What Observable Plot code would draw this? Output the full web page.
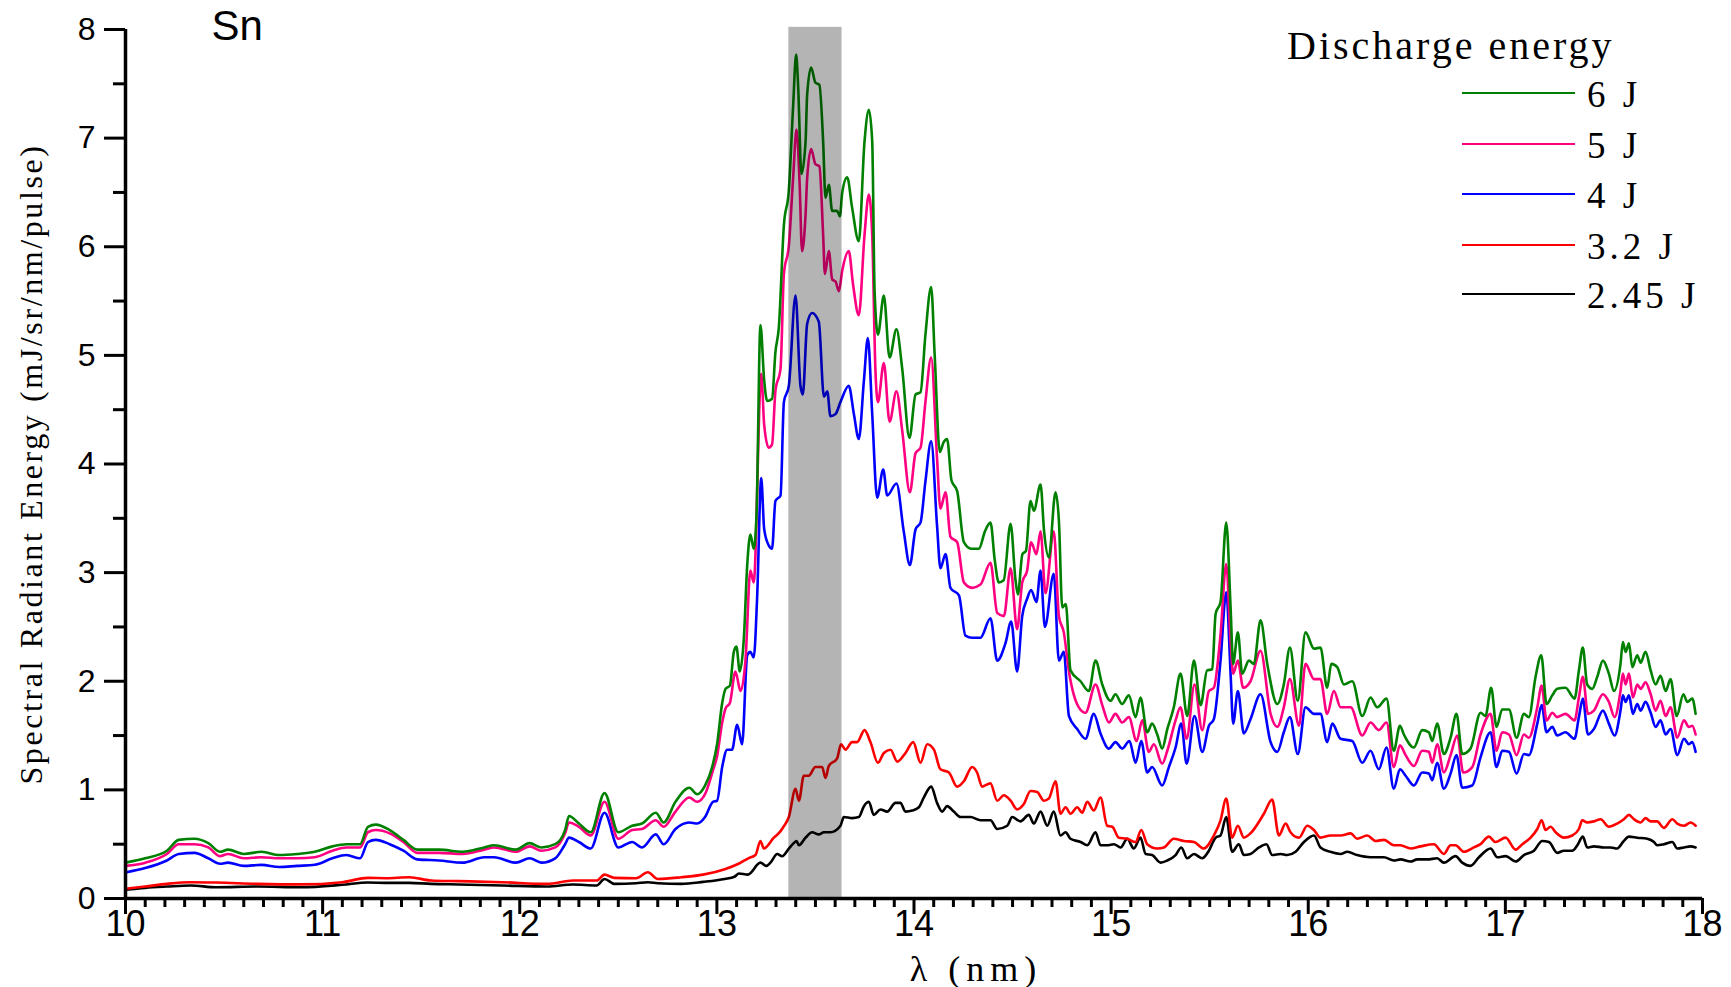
<!DOCTYPE html>
<html>
<head>
<meta charset="utf-8">
<script src="https://cdn.jsdelivr.net/npm/d3@7"></script>
<script src="https://cdn.jsdelivr.net/npm/@observablehq/plot@0.6"></script>
<style>
  html, body { margin: 0; padding: 0; background: #fff; }
  #chart { position: relative; width: 1731px; height: 987px; }
  #legend { position: absolute; left: 0; top: 0; width: 1731px; height: 0; font-family: "Liberation Serif", serif; color: #000; }
  #legend .title { position: absolute; left: 1287px; top: 26px; font-size: 40px; line-height: 1; letter-spacing: 3px; white-space: nowrap; }
  #legend .swatch { position: absolute; left: 1462px; width: 113px; height: 2px; }
  #legend .label { position: absolute; left: 1587px; font-size: 37px; line-height: 1; letter-spacing: 4px; white-space: nowrap; }
</style>
</head>
<body>
<div id="chart"></div>
<script>
// Spectral radiant energy of a Sn discharge source, [wavelength nm, mJ/sr/nm/pulse]
const e6J = [[10.00,0.33],[10.10,0.37],[10.21,0.44],[10.27,0.54],[10.35,0.55],[10.42,0.51],[10.48,0.43],[10.52,0.45],[10.60,0.41],[10.69,0.43],[10.78,0.40],[10.87,0.41],[10.96,0.43],[11.05,0.48],[11.12,0.50],[11.19,0.50],[11.23,0.66],[11.27,0.68],[11.34,0.63],[11.41,0.54],[11.48,0.45],[11.59,0.45],[11.71,0.43],[11.82,0.47],[11.87,0.49],[11.98,0.45],[12.05,0.51],[12.11,0.47],[12.18,0.50],[12.23,0.63],[12.25,0.76],[12.30,0.69],[12.36,0.61],[12.43,0.97],[12.50,0.61],[12.57,0.67],[12.62,0.69],[12.69,0.79],[12.73,0.70],[12.79,0.89],[12.86,1.02],[12.90,0.96],[12.94,1.04],[12.976,1.21],[13.001,1.42],[13.027,1.80],[13.044,1.93],[13.066,1.96],[13.086,2.27],[13.099,2.32],[13.116,2.09],[13.137,2.40],[13.154,3.07],[13.170,3.35],[13.187,3.22],[13.201,3.53],[13.221,5.28],[13.240,4.77],[13.255,4.58],[13.280,4.60],[13.297,5.03],[13.314,5.25],[13.340,6.20],[13.365,6.52],[13.387,7.30],[13.402,7.77],[13.412,7.49],[13.429,6.67],[13.450,6.97],[13.458,7.40],[13.478,7.65],[13.500,7.51],[13.520,7.49],[13.539,6.97],[13.551,6.45],[13.568,6.57],[13.585,6.33],[13.610,6.33],[13.624,6.28],[13.636,6.50],[13.661,6.64],[13.686,6.36],[13.720,6.05],[13.749,6.97],[13.771,7.26],[13.788,6.97],[13.800,5.60],[13.817,5.19],[13.847,5.55],[13.876,4.98],[13.911,5.24],[13.940,4.88],[13.977,4.24],[14.008,4.64],[14.033,4.66],[14.058,5.19],[14.087,5.63],[14.105,5.00],[14.131,4.11],[14.150,4.20],[14.168,4.23],[14.190,3.85],[14.219,3.75],[14.253,3.28],[14.290,3.22],[14.329,3.22],[14.360,3.38],[14.388,3.46],[14.410,3.11],[14.430,2.91],[14.455,2.93],[14.490,3.45],[14.515,2.93],[14.527,2.80],[14.550,3.17],[14.568,3.20],[14.591,3.66],[14.608,3.57],[14.642,3.81],[14.660,3.38],[14.684,3.14],[14.718,3.74],[14.735,3.48],[14.752,2.68],[14.770,2.71],[14.794,2.10],[14.845,2.00],[14.887,1.91],[14.921,2.19],[14.955,1.97],[14.997,1.82],[15.022,1.88],[15.056,1.79],[15.090,1.87],[15.124,1.67],[15.149,1.85],[15.183,1.53],[15.208,1.61],[15.234,1.51],[15.259,1.38],[15.285,1.56],[15.318,1.76],[15.352,2.07],[15.386,1.68],[15.420,2.19],[15.454,1.78],[15.487,2.10],[15.513,2.11],[15.530,2.62],[15.555,2.73],[15.584,3.46],[15.606,2.68],[15.619,2.16],[15.643,2.45],[15.665,2.07],[15.699,2.19],[15.724,2.16],[15.758,2.56],[15.792,2.16],[15.843,1.79],[15.876,1.97],[15.907,2.31],[15.947,1.82],[15.986,2.45],[16.029,2.30],[16.062,2.31],[16.096,1.94],[16.117,2.16],[16.147,2.13],[16.181,1.97],[16.223,2.00],[16.274,1.68],[16.316,1.85],[16.350,1.76],[16.397,1.84],[16.434,1.36],[16.465,1.59],[16.485,1.51],[16.536,1.39],[16.578,1.55],[16.612,1.53],[16.629,1.45],[16.654,1.61],[16.688,1.33],[16.722,1.48],[16.752,1.70],[16.781,1.33],[16.823,1.38],[16.874,1.71],[16.899,1.68],[16.928,1.94],[16.955,1.58],[16.984,1.74],[17.018,1.74],[17.057,1.48],[17.094,1.70],[17.119,1.67],[17.153,2.04],[17.182,2.24],[17.209,1.79],[17.238,1.87],[17.263,1.93],[17.305,1.94],[17.351,1.84],[17.373,2.10],[17.393,2.31],[17.415,1.97],[17.441,1.93],[17.466,2.04],[17.495,2.19],[17.525,2.07],[17.551,1.91],[17.584,2.16],[17.596,2.36],[17.610,2.27],[17.627,2.35],[17.644,2.13],[17.669,2.24],[17.686,2.17],[17.711,2.27],[17.737,2.10],[17.762,1.97],[17.787,2.05],[17.813,1.91],[17.838,2.02],[17.869,1.68],[17.903,1.88],[17.923,1.81],[17.948,1.84],[17.965,1.70]];

const e5J = [[10.00,0.30],[10.10,0.33],[10.21,0.41],[10.27,0.50],[10.35,0.50],[10.42,0.47],[10.48,0.39],[10.52,0.41],[10.60,0.37],[10.69,0.38],[10.78,0.37],[10.87,0.37],[10.96,0.38],[11.05,0.44],[11.12,0.47],[11.19,0.47],[11.23,0.61],[11.27,0.63],[11.34,0.60],[11.41,0.52],[11.48,0.42],[11.59,0.42],[11.71,0.41],[11.82,0.45],[11.87,0.47],[11.98,0.43],[12.05,0.48],[12.11,0.44],[12.18,0.47],[12.23,0.60],[12.25,0.70],[12.30,0.66],[12.36,0.58],[12.43,0.89],[12.50,0.55],[12.57,0.63],[12.62,0.64],[12.69,0.72],[12.73,0.66],[12.79,0.80],[12.86,0.93],[12.90,0.89],[12.94,0.96],[12.98,1.18],[13.001,1.31],[13.027,1.62],[13.044,1.75],[13.066,1.80],[13.094,2.09],[13.120,1.91],[13.145,2.19],[13.170,3.02],[13.187,2.91],[13.225,4.83],[13.240,4.36],[13.263,4.15],[13.280,4.18],[13.297,4.67],[13.323,4.88],[13.340,5.75],[13.365,6.01],[13.387,6.64],[13.404,7.08],[13.420,6.57],[13.432,5.96],[13.450,6.30],[13.458,6.63],[13.478,6.90],[13.500,6.76],[13.520,6.74],[13.539,6.11],[13.548,5.75],[13.568,5.96],[13.585,5.70],[13.602,5.68],[13.619,5.59],[13.636,5.78],[13.669,5.96],[13.691,5.65],[13.720,5.37],[13.749,6.11],[13.771,6.48],[13.788,6.11],[13.804,4.88],[13.817,4.57],[13.847,4.93],[13.876,4.39],[13.911,4.67],[13.940,4.31],[13.979,3.74],[14.008,4.10],[14.033,4.15],[14.058,4.57],[14.087,4.98],[14.117,4.05],[14.134,3.59],[14.160,3.74],[14.185,3.33],[14.219,3.28],[14.253,2.91],[14.295,2.86],[14.337,2.89],[14.388,3.09],[14.422,2.63],[14.456,2.60],[14.490,3.04],[14.523,2.48],[14.549,2.91],[14.574,3.02],[14.594,3.28],[14.621,3.17],[14.642,3.38],[14.667,2.81],[14.709,3.38],[14.735,2.60],[14.760,2.45],[14.786,2.09],[14.836,1.76],[14.870,1.71],[14.921,1.97],[14.955,1.78],[14.989,1.62],[15.022,1.70],[15.056,1.62],[15.090,1.67],[15.129,1.45],[15.158,1.64],[15.191,1.35],[15.217,1.42],[15.259,1.24],[15.285,1.36],[15.327,1.64],[15.352,1.76],[15.383,1.47],[15.423,1.97],[15.462,1.55],[15.496,1.91],[15.521,1.94],[15.555,2.43],[15.584,3.08],[15.606,2.37],[15.619,2.07],[15.643,2.19],[15.670,1.94],[15.707,2.00],[15.758,2.28],[15.809,1.70],[15.843,1.58],[15.876,1.76],[15.907,2.02],[15.953,1.59],[15.986,2.16],[16.029,2.02],[16.062,2.02],[16.096,1.70],[16.130,1.91],[16.164,1.76],[16.215,1.76],[16.274,1.50],[16.316,1.62],[16.358,1.55],[16.397,1.62],[16.434,1.21],[16.465,1.41],[16.494,1.32],[16.536,1.22],[16.578,1.36],[16.612,1.35],[16.629,1.25],[16.654,1.42],[16.688,1.16],[16.722,1.32],[16.756,1.50],[16.786,1.16],[16.832,1.21],[16.874,1.51],[16.925,1.70],[16.955,1.36],[16.984,1.53],[17.018,1.51],[17.057,1.32],[17.094,1.51],[17.119,1.48],[17.162,1.76],[17.184,1.96],[17.209,1.64],[17.238,1.71],[17.263,1.67],[17.305,1.70],[17.351,1.64],[17.373,1.85],[17.393,2.04],[17.419,1.70],[17.449,1.73],[17.495,1.88],[17.525,1.81],[17.554,1.67],[17.584,1.91],[17.596,2.07],[17.610,1.97],[17.627,2.07],[17.647,1.85],[17.669,1.97],[17.686,1.93],[17.711,1.99],[17.737,1.88],[17.762,1.73],[17.787,1.82],[17.813,1.68],[17.838,1.76],[17.872,1.48],[17.906,1.64],[17.931,1.58],[17.948,1.59],[17.965,1.51]];

const e4J = [[10.00,0.24],[10.10,0.28],[10.21,0.35],[10.27,0.41],[10.35,0.42],[10.42,0.37],[10.48,0.32],[10.52,0.33],[10.60,0.30],[10.69,0.31],[10.78,0.29],[10.87,0.30],[10.96,0.31],[11.05,0.37],[11.12,0.40],[11.19,0.37],[11.23,0.52],[11.27,0.54],[11.34,0.50],[11.41,0.44],[11.48,0.36],[11.59,0.35],[11.71,0.33],[11.82,0.38],[11.87,0.38],[11.98,0.33],[12.05,0.37],[12.11,0.33],[12.18,0.37],[12.23,0.50],[12.25,0.56],[12.30,0.52],[12.36,0.46],[12.43,0.79],[12.50,0.47],[12.57,0.52],[12.62,0.47],[12.69,0.59],[12.73,0.50],[12.79,0.64],[12.86,0.70],[12.90,0.69],[12.94,0.75],[12.98,0.89],[13.001,0.90],[13.027,1.21],[13.052,1.37],[13.077,1.37],[13.103,1.60],[13.128,1.42],[13.154,2.24],[13.170,2.27],[13.187,2.22],[13.204,2.76],[13.225,3.87],[13.240,3.40],[13.263,3.25],[13.280,3.22],[13.297,3.66],[13.323,3.71],[13.340,4.57],[13.365,4.72],[13.399,5.55],[13.424,4.72],[13.436,4.64],[13.458,5.29],[13.483,5.39],[13.517,5.31],[13.543,4.62],[13.560,4.67],[13.576,4.44],[13.602,4.46],[13.627,4.57],[13.669,4.72],[13.695,4.46],[13.720,4.23],[13.746,4.77],[13.766,5.16],[13.788,4.46],[13.813,3.69],[13.844,3.95],[13.864,3.71],[13.911,3.82],[13.948,3.38],[13.979,3.07],[14.008,3.40],[14.033,3.46],[14.058,3.84],[14.087,4.21],[14.117,3.43],[14.134,3.04],[14.160,3.17],[14.185,2.86],[14.228,2.79],[14.261,2.42],[14.295,2.40],[14.337,2.40],[14.388,2.58],[14.422,2.19],[14.464,2.35],[14.493,2.55],[14.523,2.09],[14.549,2.60],[14.574,2.76],[14.594,2.84],[14.621,2.73],[14.642,3.02],[14.664,2.50],[14.709,2.99],[14.735,2.19],[14.760,2.27],[14.786,1.68],[14.828,1.56],[14.870,1.47],[14.912,1.70],[14.946,1.52],[14.989,1.38],[15.022,1.44],[15.056,1.38],[15.093,1.45],[15.124,1.25],[15.153,1.45],[15.183,1.16],[15.208,1.21],[15.259,1.04],[15.293,1.21],[15.327,1.39],[15.356,1.61],[15.383,1.24],[15.423,1.68],[15.462,1.35],[15.496,1.59],[15.521,1.65],[15.555,2.19],[15.584,2.82],[15.606,2.07],[15.619,1.61],[15.643,1.91],[15.673,1.52],[15.707,1.65],[15.758,1.88],[15.809,1.44],[15.843,1.35],[15.876,1.53],[15.907,1.67],[15.947,1.33],[15.986,1.76],[16.029,1.70],[16.062,1.70],[16.096,1.44],[16.122,1.61],[16.164,1.47],[16.223,1.45],[16.274,1.25],[16.316,1.36],[16.358,1.19],[16.397,1.39],[16.434,1.01],[16.465,1.19],[16.494,1.13],[16.536,1.04],[16.578,1.16],[16.612,1.15],[16.629,1.09],[16.654,1.25],[16.688,1.01],[16.722,1.15],[16.752,1.32],[16.781,1.02],[16.832,1.04],[16.874,1.30],[16.925,1.53],[16.955,1.21],[16.984,1.36],[17.018,1.35],[17.057,1.15],[17.094,1.33],[17.119,1.32],[17.162,1.61],[17.184,1.78],[17.209,1.53],[17.238,1.58],[17.263,1.50],[17.305,1.53],[17.351,1.47],[17.373,1.67],[17.393,1.84],[17.419,1.51],[17.449,1.56],[17.495,1.73],[17.525,1.61],[17.554,1.50],[17.584,1.73],[17.596,1.87],[17.610,1.81],[17.627,1.87],[17.647,1.70],[17.669,1.79],[17.686,1.73],[17.711,1.81],[17.737,1.71],[17.762,1.58],[17.787,1.64],[17.813,1.51],[17.838,1.56],[17.872,1.32],[17.906,1.47],[17.931,1.42],[17.948,1.44],[17.965,1.35]];

const e3_2J = [[10.00,0.09],[10.10,0.11],[10.21,0.135],[10.33,0.15],[10.46,0.147],[10.67,0.135],[10.89,0.13],[11.10,0.15],[11.23,0.19],[11.32,0.187],[11.44,0.196],[11.55,0.166],[11.69,0.16],[11.91,0.15],[12.14,0.135],[12.27,0.166],[12.39,0.166],[12.43,0.22],[12.48,0.19],[12.59,0.187],[12.65,0.242],[12.70,0.18],[12.82,0.196],[12.93,0.22],[13.04,0.27],[13.11,0.32],[13.16,0.37],[13.196,0.40],[13.221,0.53],[13.238,0.46],[13.289,0.56],[13.323,0.62],[13.338,0.66],[13.365,0.75],[13.399,1.01],[13.416,0.90],[13.441,1.13],[13.466,1.13],[13.500,1.21],[13.534,1.21],[13.551,1.11],[13.568,1.22],[13.610,1.29],[13.630,1.42],[13.652,1.37],[13.686,1.44],[13.712,1.44],[13.749,1.55],[13.779,1.44],[13.817,1.25],[13.847,1.34],[13.881,1.37],[13.915,1.26],[13.957,1.34],[13.996,1.44],[14.033,1.25],[14.067,1.42],[14.101,1.37],[14.134,1.19],[14.177,1.16],[14.219,1.03],[14.253,1.08],[14.295,1.21],[14.320,1.16],[14.346,1.03],[14.388,1.06],[14.422,0.90],[14.456,0.95],[14.490,0.90],[14.523,0.82],[14.557,0.87],[14.591,0.99],[14.625,0.98],[14.659,0.90],[14.684,0.92],[14.718,1.08],[14.743,0.78],[14.769,0.84],[14.794,0.78],[14.828,0.84],[14.853,0.79],[14.879,0.89],[14.912,0.81],[14.946,0.93],[14.980,0.67],[15.006,0.66],[15.039,0.56],[15.082,0.55],[15.124,0.52],[15.153,0.63],[15.183,0.50],[15.234,0.46],[15.268,0.47],[15.318,0.55],[15.369,0.53],[15.420,0.52],[15.470,0.46],[15.521,0.58],[15.555,0.72],[15.584,0.92],[15.614,0.56],[15.643,0.67],[15.673,0.56],[15.707,0.60],[15.775,0.78],[15.817,0.91],[15.851,0.58],[15.885,0.69],[15.910,0.61],[15.953,0.56],[15.995,0.67],[16.029,0.63],[16.062,0.56],[16.113,0.58],[16.164,0.58],[16.215,0.60],[16.248,0.55],[16.299,0.58],[16.342,0.53],[16.384,0.54],[16.434,0.49],[16.468,0.49],[16.519,0.46],[16.570,0.48],[16.637,0.50],[16.688,0.41],[16.722,0.49],[16.747,0.49],[16.790,0.43],[16.840,0.47],[16.874,0.50],[16.916,0.57],[16.950,0.52],[17.001,0.56],[17.052,0.45],[17.086,0.50],[17.128,0.56],[17.162,0.64],[17.184,0.72],[17.204,0.63],[17.229,0.66],[17.255,0.61],[17.297,0.56],[17.339,0.58],[17.373,0.64],[17.390,0.72],[17.415,0.70],[17.449,0.71],[17.483,0.73],[17.525,0.66],[17.567,0.69],[17.601,0.73],[17.627,0.77],[17.652,0.73],[17.686,0.70],[17.711,0.74],[17.737,0.71],[17.770,0.71],[17.804,0.65],[17.847,0.73],[17.872,0.69],[17.906,0.67],[17.940,0.70],[17.965,0.67]];

const e2_45J = [[10.00,0.08],[10.10,0.098],[10.21,0.11],[10.33,0.12],[10.46,0.104],[10.67,0.11],[10.89,0.104],[11.10,0.126],[11.23,0.147],[11.32,0.144],[11.44,0.144],[11.55,0.135],[11.69,0.129],[11.91,0.12],[12.14,0.11],[12.27,0.129],[12.39,0.12],[12.43,0.18],[12.48,0.135],[12.59,0.141],[12.65,0.15],[12.70,0.141],[12.82,0.135],[12.93,0.153],[13.04,0.18],[13.089,0.20],[13.112,0.23],[13.157,0.22],[13.221,0.33],[13.250,0.30],[13.272,0.33],[13.306,0.41],[13.331,0.39],[13.365,0.46],[13.390,0.51],[13.404,0.53],[13.416,0.49],[13.450,0.56],[13.483,0.61],[13.517,0.59],[13.543,0.61],[13.576,0.61],[13.627,0.67],[13.644,0.75],[13.686,0.74],[13.720,0.75],[13.746,0.85],[13.771,0.89],[13.796,0.77],[13.830,0.82],[13.864,0.80],[13.906,0.88],[13.931,0.88],[13.957,0.80],[13.991,0.81],[14.025,0.84],[14.050,0.93],[14.087,1.03],[14.117,0.88],[14.143,0.80],[14.168,0.85],[14.202,0.80],[14.236,0.75],[14.287,0.75],[14.337,0.72],[14.388,0.72],[14.422,0.64],[14.473,0.67],[14.498,0.75],[14.540,0.71],[14.582,0.77],[14.608,0.69],[14.642,0.80],[14.676,0.67],[14.709,0.80],[14.743,0.58],[14.769,0.61],[14.794,0.55],[14.845,0.52],[14.879,0.49],[14.921,0.61],[14.946,0.49],[14.980,0.49],[15.014,0.50],[15.048,0.47],[15.082,0.55],[15.115,0.46],[15.149,0.56],[15.175,0.41],[15.208,0.40],[15.251,0.33],[15.285,0.35],[15.327,0.40],[15.356,0.47],[15.386,0.37],[15.420,0.41],[15.462,0.37],[15.496,0.44],[15.530,0.56],[15.555,0.58],[15.584,0.75],[15.614,0.43],[15.648,0.50],[15.673,0.40],[15.707,0.41],[15.750,0.47],[15.788,0.50],[15.817,0.40],[15.860,0.41],[15.893,0.40],[15.936,0.43],[15.978,0.52],[16.029,0.58],[16.062,0.47],[16.113,0.43],[16.164,0.41],[16.198,0.43],[16.248,0.40],[16.316,0.38],[16.384,0.38],[16.434,0.35],[16.468,0.36],[16.519,0.34],[16.553,0.36],[16.604,0.36],[16.654,0.37],[16.688,0.33],[16.747,0.39],[16.781,0.33],[16.823,0.30],[16.866,0.38],[16.925,0.46],[16.959,0.38],[17.001,0.39],[17.052,0.34],[17.094,0.40],[17.145,0.44],[17.187,0.53],[17.221,0.52],[17.263,0.42],[17.297,0.44],[17.339,0.44],[17.365,0.49],[17.393,0.57],[17.415,0.47],[17.449,0.48],[17.500,0.47],[17.534,0.47],[17.567,0.46],[17.601,0.53],[17.627,0.57],[17.669,0.56],[17.720,0.55],[17.754,0.52],[17.770,0.49],[17.804,0.50],[17.847,0.52],[17.872,0.46],[17.906,0.47],[17.940,0.48],[17.965,0.47]];

// Series, in legend order
const energyLabels = ["6 J", "5 J", "4 J", "3.2 J", "2.45 J"];
const energyColors = ["#008000", "#ff0080", "#0000ff", "#ff0000", "#000000"];
const energySeries = [e6J, e5J, e4J, e3_2J, e2_45J];

// 2% in-band window centred on 13.5 nm
const inBand = [{start: 13.365, end: 13.635, low: 0, high: 8.02}];

// Axis ticks
const xMajorTicks = d3.range(10, 19);
const xMinorTicks = d3.range(100, 181).filter(d => d % 10 !== 0).map(d => d / 10);
const yMajorTicks = d3.range(0, 9);
const yMinorTicks = d3.range(0, 8).map(d => d + 0.5);

const elementLabel = ["Sn"];
const xTitle = ["λ (nm)"];
const yTitle = ["Spectral Radiant Energy (mJ/sr/nm/pulse)"];
const legendTitle = "Discharge energy";

const rows = energySeries.map((s, i) => s.map(([wl, v]) => ({wl, v, energy: energyLabels[i]})));

// draw lowest energy first so the 6 J trace sits on top
const lineMarks = rows.slice().reverse().map((r, k) => {
  const i = rows.length - 1 - k;
  return Plot.line(r, {x: "wl", y: "v", stroke: energyColors[i], strokeWidth: 2.6, strokeLinejoin: "round", curve: "monotone-x"});
});

const chart = Plot.plot({
  width: 1731,
  height: 987,
  marginLeft: 125,
  marginRight: 29,
  marginTop: 29,
  marginBottom: 89,
  x: {domain: [10, 18]},
  y: {domain: [0, 8]},
  style: {fontFamily: "'Liberation Sans', Arial, sans-serif", background: "#fff", color: "#000", overflow: "visible"},
  marks: [
    ...lineMarks,
    Plot.rect(inBand, {x1: "start", x2: "end", y1: "low", y2: "high", fill: "#000", fillOpacity: 0.294}),
    Plot.ruleX([10], {y1: 0, y2: 8, strokeWidth: 3.5}),
    Plot.ruleY([0], {x1: 10, x2: 18, strokeWidth: 3.5}),
    Plot.axisX(xMajorTicks, {tickSize: 16, tickPadding: -4, strokeWidth: 3, fontSize: 36, label: null, tickFormat: d3.format("d")}),
    Plot.axisX(xMinorTicks, {tickSize: 9, strokeWidth: 3, label: null, tickFormat: () => ""}),
    Plot.axisY(yMajorTicks, {tickSize: 21, tickPadding: 9, strokeWidth: 3, fontSize: 32, label: null, tickFormat: d3.format("d")}),
    Plot.axisY(yMinorTicks, {tickSize: 12, strokeWidth: 3, label: null, tickFormat: () => ""}),
    Plot.text(elementLabel, {frameAnchor: "top-left", dx: 86, dy: -19, lineAnchor: "top", textAnchor: "start", fontSize: 42}),
    Plot.text(xTitle, {frameAnchor: "bottom", dx: 62, dy: 71, lineAnchor: "middle", textAnchor: "middle", fontSize: 36, fontFamily: "'Liberation Serif', serif"}),
    Plot.text(yTitle, {frameAnchor: "left", dx: -94, rotate: -90, lineAnchor: "middle", textAnchor: "middle", fontSize: 32, fontFamily: "'Liberation Serif', serif"})
  ]
});

// letter-spaced serif axis titles
const spacing = new Map([[xTitle[0], "6px"], [yTitle[0], "2.6px"]]);
d3.select(chart).selectAll("text")
  .filter(function() { return spacing.has(this.textContent); })
  .attr("letter-spacing", function() { return spacing.get(this.textContent); });

const host = document.getElementById("chart");
host.appendChild(chart);

// Legend drawn over the upper-right corner of the plot
const legend = d3.select(host).append("div").attr("id", "legend");
legend.append("div").attr("class", "title").text(legendTitle);
const rowY = [93, 144, 194, 245, 294];
energyLabels.forEach((label, i) => {
  legend.append("div").attr("class", "swatch").style("top", (rowY[i] - 1) + "px").style("background", energyColors[i]);
  legend.append("div").attr("class", "label").style("top", (rowY[i] - 17) + "px").text(label);
});
</script>
</body>
</html>
